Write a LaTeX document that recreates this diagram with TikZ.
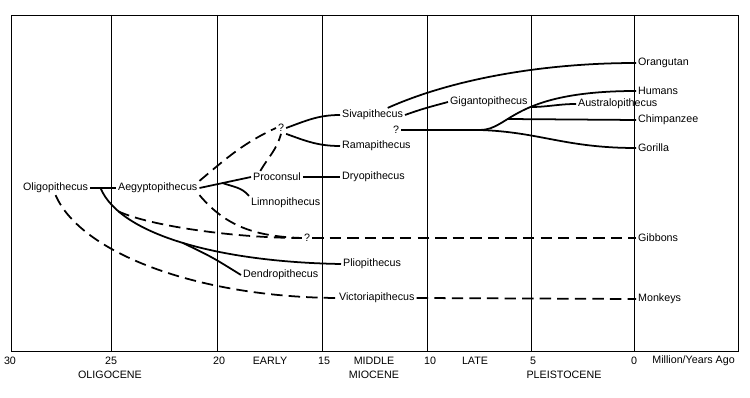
\documentclass[tikz,border=0pt]{standalone}
\usepackage{fontspec}
\setsansfont{Liberation Sans}
\tikzset{
  taxon/.style={font=\sffamily\fontsize{6.1}{7}\selectfont,inner sep=1pt},
  epoch/.style={font=\sffamily\fontsize{6.1}{7}\selectfont,inner sep=0pt},
  lineage/.style={line width=1pt},
  gap/.style={line width=1pt,dash pattern=on 6.5pt off 3.5pt},
  frameline/.style={line width=0.5pt}
}
\begin{document}
\begin{tikzpicture}[x=0.02cm,y=-0.02cm]
\useasboundingbox (0,0) rectangle (750,398);
\draw[frameline] (11,15) rectangle (738,351);
\foreach \x in {111,217,322,427,531,634}
  \draw[frameline] (\x,15) -- (\x,351);
\foreach \x/\t in {10/30,111/25,219/20,324/15,430/10,533/5,634/0}
  \node[epoch] (t\t) at (\x,361) {\t};
\node[epoch] (early) at (270,361) {EARLY};
\node[epoch] (middle) at (374,361) {MIDDLE};
\node[epoch] (late) at (475,361) {LATE};
\node[epoch,anchor=west] (unit) at (652,361) {Million/Years Ago};
\node[epoch] (oligocene) at (110,375) {OLIGOCENE};
\node[epoch] (miocene) at (374,375) {MIOCENE};
\node[epoch] (pleisto) at (564,375) {PLEISTOCENE};

\node[taxon,anchor=west] (oligo) at (21,188) {Oligopithecus};
\node[taxon,anchor=west] (aegypto) at (116,188) {Aegyptopithecus};
\node[taxon,anchor=west] (procon) at (251,177) {Proconsul};
\node[taxon,anchor=west] (limno) at (249,203) {Limnopithecus};
\node[taxon,anchor=west] (dryo) at (340,177) {Dryopithecus};
\node[taxon] (qup) at (281,128) {?};
\node[taxon,anchor=west] (siva) at (340,115) {Sivapithecus};
\node[taxon,anchor=west] (rama) at (340,146) {Ramapithecus};
\node[taxon,anchor=west] (giganto) at (448,102) {Gigantopithecus};
\node[taxon] (qmid) at (396,130) {?};
\node[taxon,anchor=west] (orang) at (636,63) {Orangutan};
\node[taxon,anchor=west] (humans) at (636,91) {Humans};
\node[taxon,anchor=west] (austra) at (576,104) {Australopithecus};
\node[taxon,anchor=west] (chimp) at (636,120) {Chimpanzee};
\node[taxon,anchor=west] (gorilla) at (636,148) {Gorilla};
\node[taxon] (qlow) at (307,238) {?};
\node[taxon,anchor=west] (gibbons) at (636,238) {Gibbons};
\node[taxon,anchor=west] (plio) at (341,264) {Pliopithecus};
\node[taxon,anchor=west] (dendro) at (241,275) {Dendropithecus};
\node[taxon,anchor=west] (victoria) at (337,298) {Victoriapithecus};
\node[taxon,anchor=west] (monkeys) at (636,299) {Monkeys};
\coordinate (b5) at (480,130);

\draw[lineage] (oligo.east) -- coordinate[pos=0.4] (b1) (aegypto.west);
\draw[lineage] (b1) .. controls (120,235) and (220,262) .. coordinate[pos=0.18] (b3) coordinate[pos=0.5] (b2) (plio.west);
\draw[lineage] (b2) .. controls (212,257) .. (dendro.west);
\draw[gap] (oligo.south) .. controls (80,252) and (195,297) .. (victoria.west);
\draw[gap] (b3) .. controls (150,226) and (235,238) .. (qlow.west);
\draw[lineage] (aegypto.east) -- coordinate[pos=0.45] (b4) (procon.west);
\draw[lineage] (b4) to[out=-20,in=130] (limno.north west);
\draw[lineage] (procon.east) -- (dryo.west);
\draw[gap] (aegypto.north east) to[out=40,in=205] (qup.west);
\draw[gap] (aegypto.south east) to[out=-50,in=178] (qlow.west);
\draw[gap] (procon.160) to[out=60,in=-105] (qup.south);
\draw[lineage] (qup.east) to[out=20,in=180] (siva.west);
\draw[lineage] (qup.south east) to[out=-20,in=180] (rama.west);
\draw[lineage] (siva.east) to[out=20,in=195] (giganto.west);
\draw[lineage] (siva.25) .. controls (450,80) and (540,63) .. (orang.west);
\draw[lineage] (qmid.east) -- (b5);
\draw[lineage] (b5) .. controls (510,130) and (512,91) .. coordinate[pos=0.35] (b7) coordinate[pos=0.56] (b6) (humans.west);
\draw[lineage] (b6) to[out=0,in=180] (austra.west);
\draw[lineage] (b7) -- (chimp.west);
\draw[lineage] (b5) .. controls (540,132) and (565,148) .. (gorilla.west);
\draw[gap] (qlow.east) -- (gibbons.west);
\draw[gap] (victoria.east) -- (monkeys.west);
\end{tikzpicture}
\end{document}
